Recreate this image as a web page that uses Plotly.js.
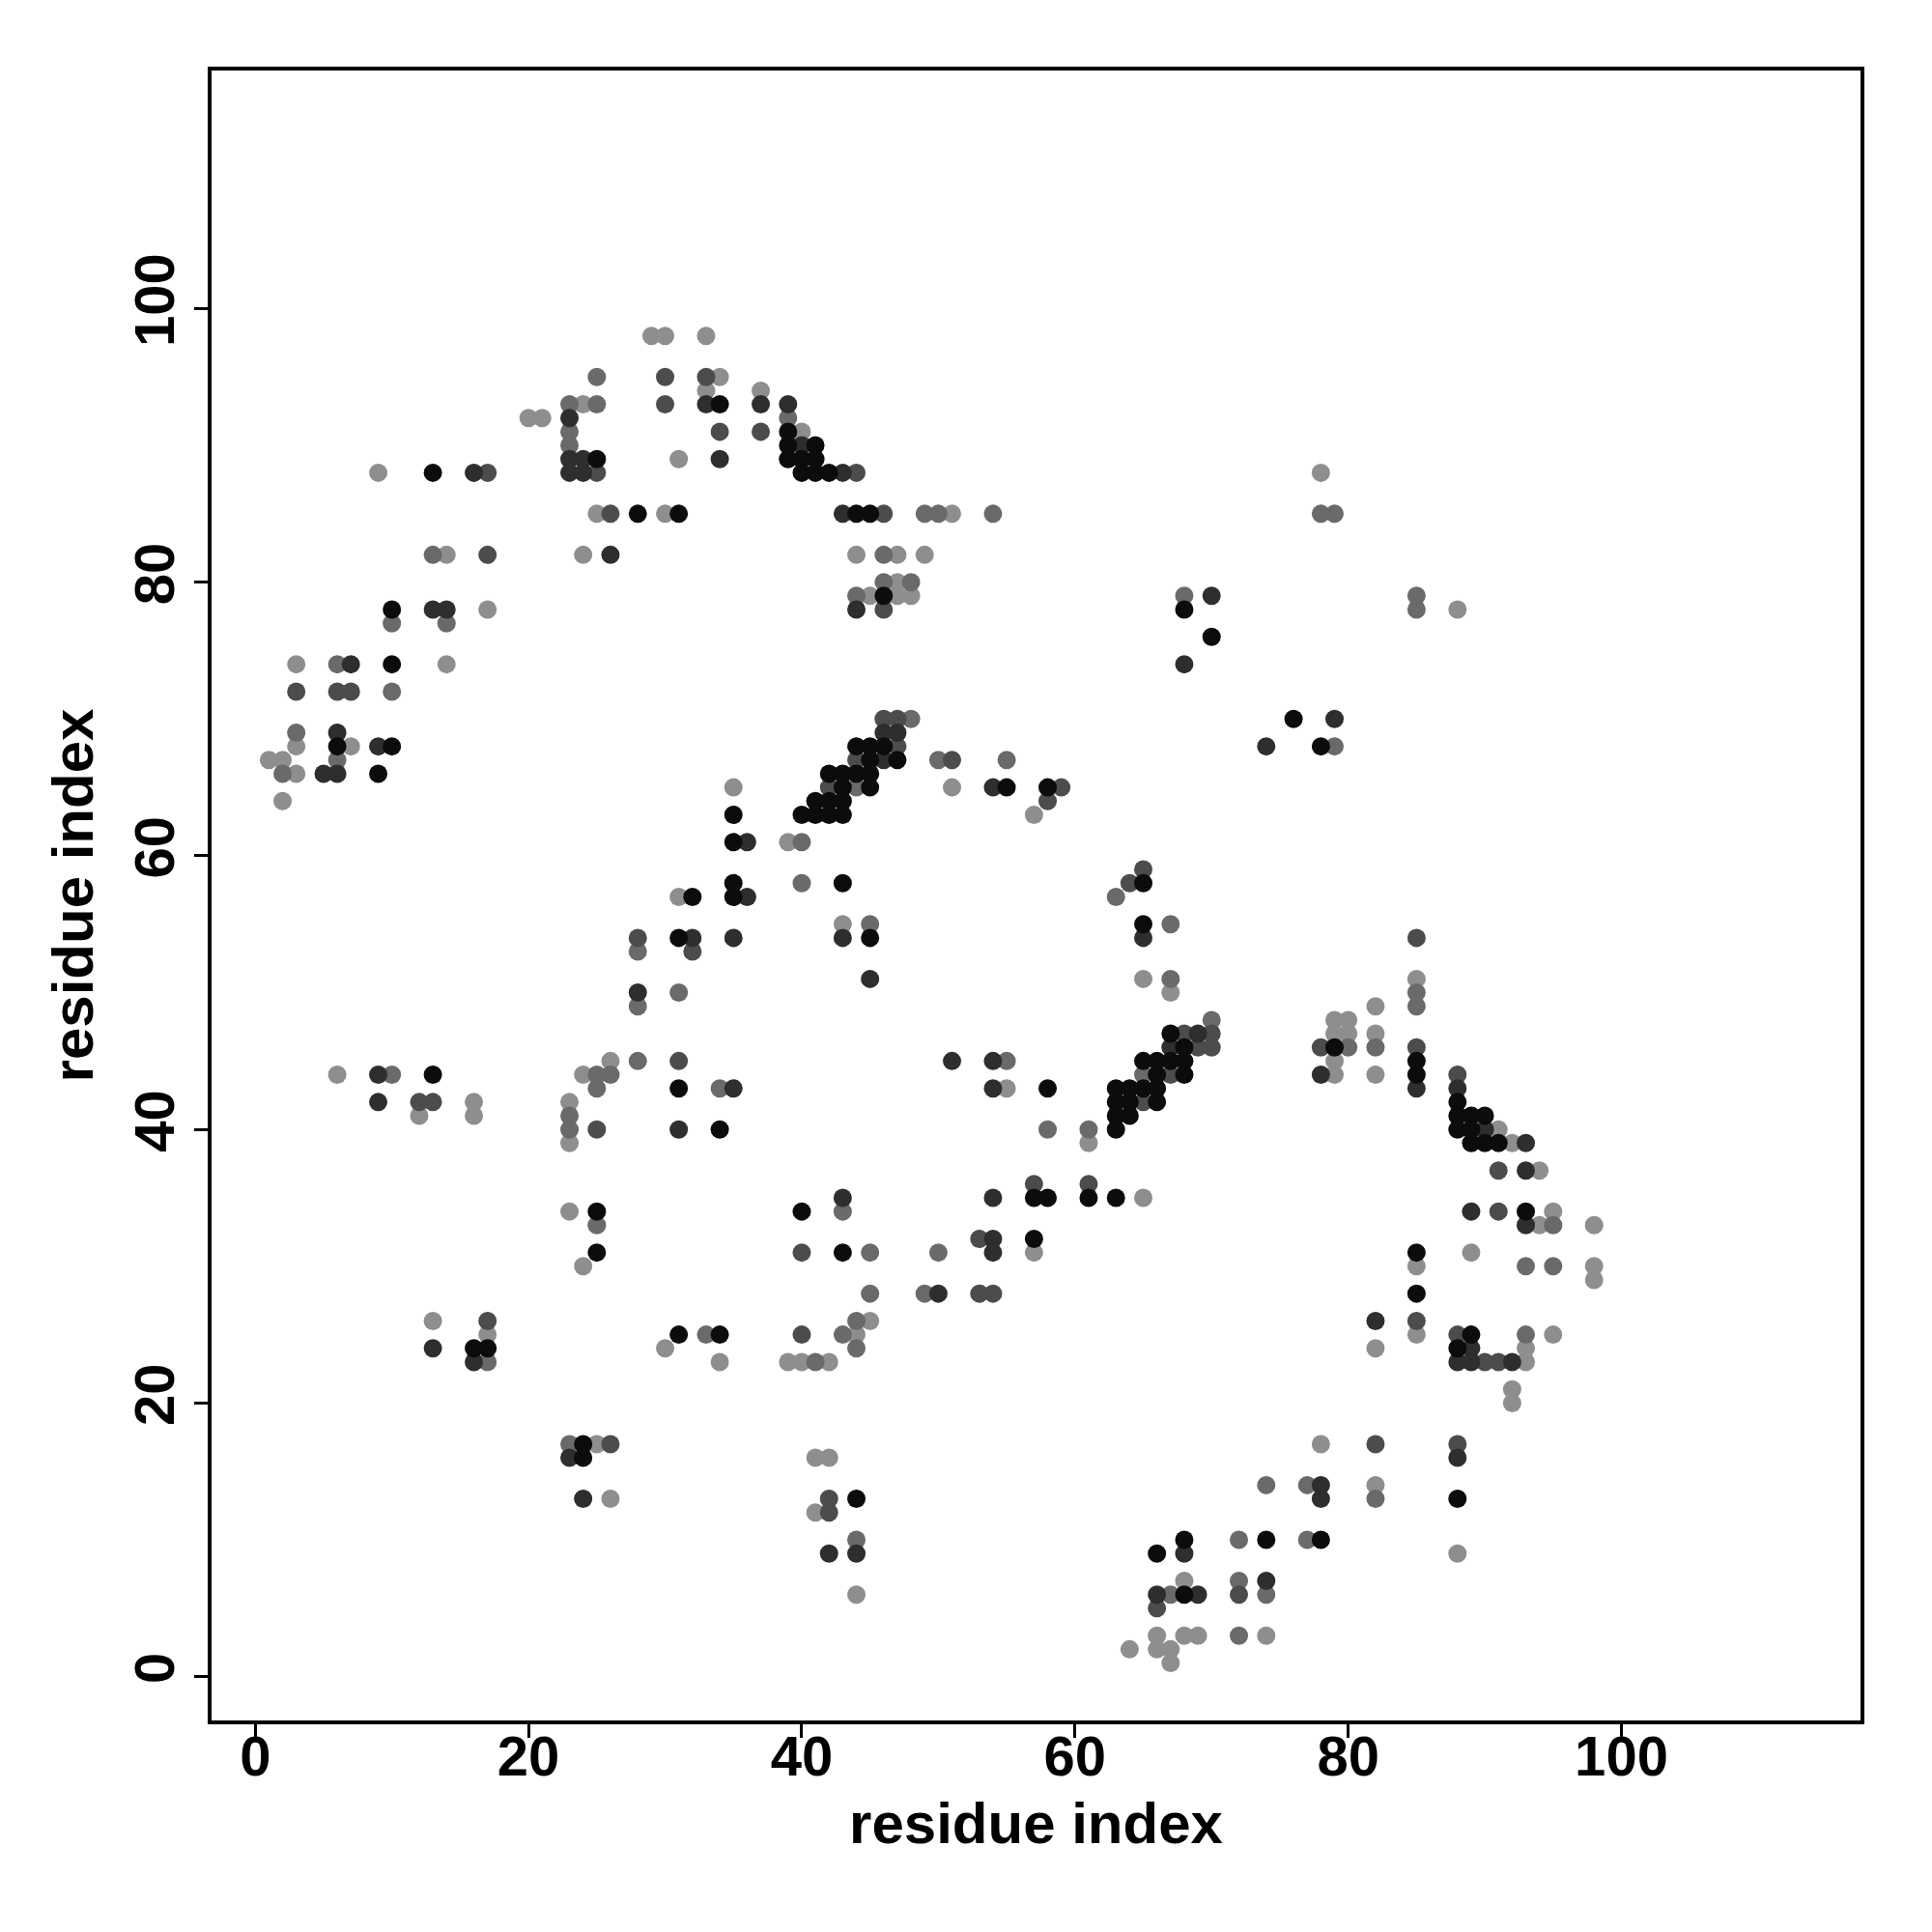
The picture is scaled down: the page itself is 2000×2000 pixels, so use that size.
<!DOCTYPE html>
<html>
<head>
<meta charset="utf-8">
<script src="https://cdn.plot.ly/plotly-3.0.1.min.js"></script>
<style>html,body{margin:0;padding:0;background:#fff;}#chart{width:2000px;height:2000px;}</style>
</head>
<body>
<div id="chart"></div>
<script>
// Contact pairs [residue i, residue j], grouped by contact strength (weak -> strong)
const contactsWeak = [[29,98],[30,98],[33,98],[34,95],[33,94],[37,94],[24,93],[20,92],[21,92],[40,91],[31,89],[9,88],[78,88],[25,85],[30,85],[51,85],[14,82],[24,82],[44,82],[47,82],[49,82],[47,80],[45,79],[47,79],[48,79],[17,78],[88,78],[3,74],[14,74],[3,68],[7,68],[1,67],[2,67],[3,66],[35,65],[51,65],[2,64],[57,63],[39,61],[31,57],[43,55],[65,51],[85,51],[67,50],[82,49],[79,48],[80,48],[79,47],[80,47],[82,47],[26,45],[79,45],[6,44],[24,44],[79,44],[82,44],[55,43],[16,42],[23,42],[12,41],[16,41],[91,40],[23,39],[61,39],[92,39],[94,37],[65,35],[23,34],[95,34],[94,33],[98,33],[57,31],[89,31],[24,30],[85,30],[98,30],[98,29],[13,26],[45,26],[17,25],[44,25],[85,25],[95,25],[30,24],[82,24],[93,24],[34,23],[39,23],[40,23],[42,23],[93,23],[92,21],[92,20],[25,17],[78,17],[41,16],[42,16],[82,14],[26,13],[41,12],[88,9],[68,7],[44,6],[66,3],[68,3],[69,3],[74,3],[64,2],[66,2],[67,2],[67,1]];
const contactsLow = [[25,95],[23,93],[25,93],[39,92],[23,91],[23,90],[49,85],[50,85],[54,85],[78,85],[79,85],[13,82],[46,82],[46,80],[48,80],[44,79],[68,79],[85,79],[85,78],[10,77],[14,77],[6,74],[10,72],[48,70],[3,69],[79,68],[6,67],[50,67],[55,67],[2,66],[44,65],[40,61],[40,58],[63,57],[45,55],[67,55],[28,53],[67,51],[31,50],[85,50],[28,49],[85,49],[70,48],[80,46],[82,46],[28,45],[55,45],[10,44],[25,44],[26,44],[65,44],[25,43],[34,43],[23,41],[23,40],[58,40],[61,40],[43,34],[25,33],[95,33],[45,31],[50,31],[93,30],[95,30],[45,28],[49,28],[44,26],[33,25],[43,25],[93,25],[44,24],[17,23],[41,23],[23,17],[74,14],[77,14],[82,13],[44,10],[72,10],[77,10],[72,7],[67,6],[74,6],[72,3]];
const contactsMedium = [[30,95],[33,95],[30,93],[34,91],[37,91],[17,88],[25,88],[44,88],[26,85],[46,85],[17,82],[46,78],[3,72],[6,72],[7,72],[46,70],[47,70],[47,68],[44,67],[51,67],[42,65],[59,65],[58,64],[65,59],[64,58],[28,54],[85,54],[32,53],[68,47],[70,47],[69,46],[70,46],[78,46],[85,46],[31,45],[67,44],[88,44],[12,42],[13,42],[65,42],[25,40],[91,37],[57,36],[61,36],[91,34],[53,32],[40,31],[53,28],[54,28],[17,26],[85,26],[40,25],[88,25],[90,23],[91,23],[26,17],[82,17],[88,17],[42,13],[42,12],[72,6],[66,5]];
const contactsHigh = [[33,93],[37,93],[39,93],[23,92],[40,90],[23,89],[24,89],[34,89],[16,88],[23,88],[24,88],[43,88],[43,85],[26,82],[70,79],[13,78],[14,78],[44,78],[7,74],[68,74],[79,70],[6,69],[46,69],[47,69],[9,68],[74,68],[46,67],[5,66],[6,66],[54,65],[36,61],[36,57],[32,54],[35,54],[43,54],[65,54],[45,51],[28,50],[69,47],[67,46],[51,45],[54,45],[9,44],[78,44],[35,43],[54,43],[85,43],[88,43],[9,42],[31,40],[90,40],[93,39],[93,37],[43,35],[54,35],[89,34],[93,33],[54,32],[54,31],[50,28],[82,26],[13,24],[89,24],[16,23],[88,23],[89,23],[92,23],[23,16],[88,16],[78,14],[24,13],[78,13],[42,9],[44,9],[68,9],[74,7],[66,6],[69,6]];
const contactsStrong = [[34,93],[39,91],[39,90],[41,90],[25,89],[39,89],[40,89],[41,89],[13,88],[40,88],[41,88],[42,88],[28,85],[31,85],[44,85],[45,85],[46,79],[10,78],[68,78],[70,76],[10,74],[76,70],[6,68],[10,68],[44,68],[45,68],[46,68],[78,68],[45,67],[47,67],[9,66],[42,66],[43,66],[44,66],[45,66],[43,65],[45,65],[55,65],[58,65],[41,64],[42,64],[43,64],[35,63],[40,63],[41,63],[42,63],[43,63],[35,61],[35,58],[43,58],[65,58],[32,57],[35,57],[65,55],[31,54],[45,54],[67,47],[68,46],[79,46],[65,45],[66,45],[67,45],[68,45],[85,45],[13,44],[66,44],[68,44],[85,44],[31,43],[58,43],[63,43],[64,43],[65,43],[66,43],[63,42],[64,42],[66,42],[88,42],[63,41],[64,41],[88,41],[89,41],[90,41],[34,40],[63,40],[88,40],[89,40],[89,39],[90,39],[91,39],[57,35],[58,35],[61,35],[63,35],[25,34],[40,34],[93,34],[57,32],[25,31],[43,31],[85,31],[85,28],[31,25],[34,25],[89,25],[16,24],[17,24],[88,24],[24,17],[24,16],[44,13],[88,13],[68,10],[74,10],[78,10],[66,9],[68,6]];
const axisTicks = [0, 20, 40, 60, 80, 100];
const axisTitle = "residue index";

const groups = [
  {data: contactsWeak,   color: "#8e8e8e"},
  {data: contactsLow,    color: "#6a6a6a"},
  {data: contactsMedium, color: "#4c4c4c"},
  {data: contactsHigh,   color: "#2e2e2e"},
  {data: contactsStrong, color: "#0c0c0c"}
];

const traces = groups.map(g => ({
  type: "scatter",
  mode: "markers",
  x: g.data.map(p => p[0]),
  y: g.data.map(p => p[1]),
  marker: {size: 19, color: g.color, line: {width: 0}},
  hoverinfo: "x+y",
  showlegend: false
}));

const font = {family: "Liberation Sans, Arial, Helvetica, sans-serif", color: "#000", size: 58, weight: "bold"};
const titleFont = Object.assign({}, font, {size: 60});

const axisBase = {
  tickvals: axisTicks,
  ticktext: axisTicks.map(String),
  ticks: "outside",
  ticklen: 14,
  tickwidth: 3,
  tickcolor: "#000",
  showline: true,
  mirror: true,
  linewidth: 4,
  linecolor: "#000",
  showgrid: false,
  zeroline: false,
  tickfont: font,
  automargin: false
};

const layout = {
  width: 2000,
  height: 2000,
  margin: {l: 219, r: 74, t: 73, b: 219},
  paper_bgcolor: "#fff",
  plot_bgcolor: "#fff",
  xaxis: Object.assign({}, axisBase, {
    range: [-3.2, 117.5],
    ticklabelstandoff: -31,
    title: {text: axisTitle, font: titleFont, standoff: 18}
  }),
  yaxis: Object.assign({}, axisBase, {
    range: [-3.2, 117.4],
    tickangle: -90,
    ticklabelstandoff: -2,
    title: {text: axisTitle, font: titleFont, standoff: 12}
  })
};

Plotly.newPlot("chart", traces, layout, {staticPlot: true, displayModeBar: false});
</script>
</body>
</html>
